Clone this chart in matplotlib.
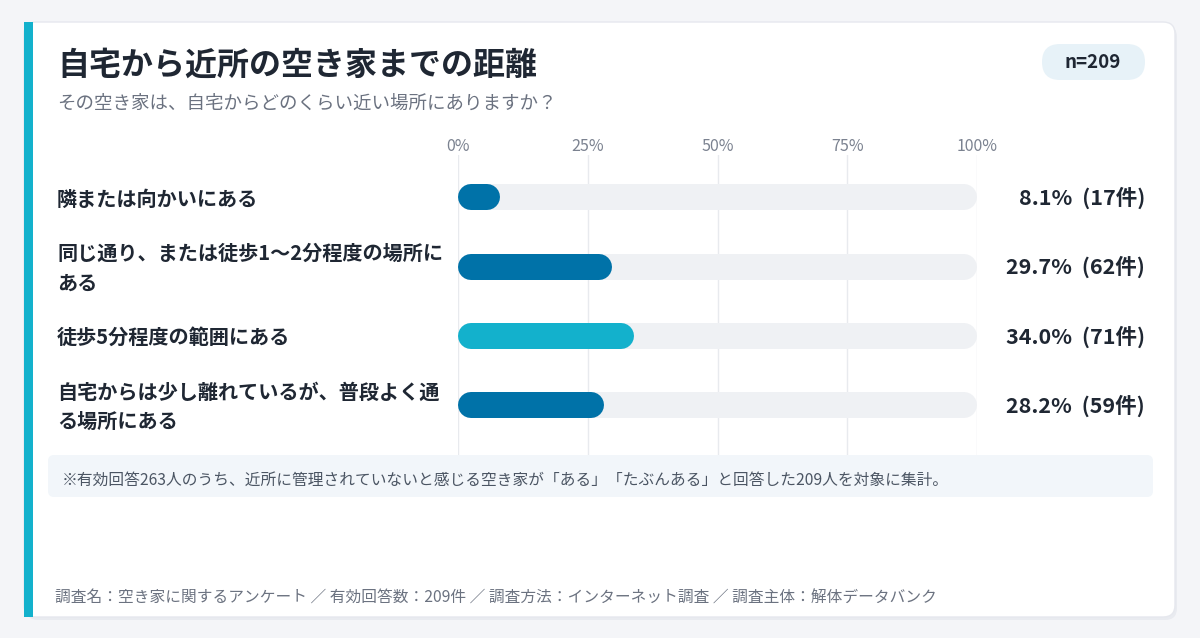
import numpy as np
import matplotlib.pyplot as plt
from matplotlib.patches import FancyBboxPatch, Rectangle

plt.rcParams['font.family'] = ['Noto Sans CJK JP', 'DejaVu Sans']

title = '自宅から近所の空き家までの距離'
subtitle = 'その空き家は、自宅からどのくらい近い場所にありますか？'
categories = ['隣または向かいにある',
              '同じ通り、または徒歩1〜2分程度の場所に\nある',
              '徒歩5分程度の範囲にある',
              '自宅からは少し離れているが、普段よく通\nる場所にある']
percents = [8.1, 29.7, 34.0, 28.2]
counts = [17, 62, 71, 59]
ticks = [0, 25, 50, 75, 100]
n_label = 'n=209'
note = '※有効回答263人のうち、近所に管理されていないと感じる空き家が「ある」「たぶんある」と回答した209人を対象に集計。'
footer = '調査名：空き家に関するアンケート ／ 有効回答数：209件 ／ 調査方法：インターネット調査 ／ 調査主体：解体データバンク'

W, H = 1200, 638
fig = plt.figure(figsize=(W / 100, H / 100), dpi=100)
fig.patch.set_facecolor('#f4f5f8')

# background axes in pixel units
bg = fig.add_axes([0, 0, 1, 1])
bg.set_xlim(0, W)
bg.set_ylim(H, 0)
bg.axis('off')

# card shadow + card
bg.add_patch(FancyBboxPatch((26, 25), 1151, 595, boxstyle='round,pad=0,rounding_size=12',
                            fc='#e9ebf0', ec='none', zorder=0))
bg.add_patch(FancyBboxPatch((24, 22), 1151, 595, boxstyle='round,pad=0,rounding_size=12',
                            fc='white', ec='#e6e8ee', lw=1, zorder=1))
bg.add_patch(Rectangle((24, 22), 9, 595, fc='#13b1cc', ec='none', zorder=2))

bg.text(57, 66, title, fontsize=23, fontweight='bold', color='#1f2733', va='center', zorder=3)
bg.text(57, 104, subtitle, fontsize=13.3, color='#6b7280', va='center', zorder=3)

# n pill
bg.add_patch(FancyBboxPatch((1042, 44), 103, 36, boxstyle='round,pad=0,rounding_size=18',
                            fc='#e7f2f8', ec='none', zorder=2))
bg.text(1093, 62, n_label, fontsize=13.5, fontweight='bold', color='#1f2733',
        ha='center', va='center', zorder=3)

# note box
bg.add_patch(FancyBboxPatch((48, 455), 1105, 42, boxstyle='round,pad=0,rounding_size=6',
                            fc='#f2f6fa', ec='none', zorder=2))
bg.text(62, 480, note, fontsize=11.3, color='#4b5563', va='center', zorder=3)

bg.text(55, 598, footer, fontsize=11.3, color='#6b7280', va='center', zorder=3)

# chart axes: x 458..977 px, y 155..455 px
ax = fig.add_axes([458 / W, 1 - 455 / H, (977 - 458) / W, 300 / H])
ax.set_facecolor('none')
ax.set_xlim(0, 100)
ax.set_ylim(3.72, -0.61)
for s in ax.spines.values():
    s.set_visible(False)
ax.set_yticks([])
ax.set_xticks(ticks)
ax.set_xticklabels([f'{t}%' for t in ticks], fontsize=11.5, color='#7b8290')
ax.xaxis.tick_top()
ax.tick_params(axis='x', length=0, pad=0)
for t in ticks:
    ax.axvline(t, color='#e8eaee', lw=1, zorder=0)

bar_px = 26
lw_pt = bar_px * 72 / 100
r = bar_px / 2 / 519 * 100
top = int(np.argmax(percents))
for i, (p, c) in enumerate(zip(percents, counts)):
    ax.plot([r, 100 - r], [i, i], lw=lw_pt, color='#eff1f4', solid_capstyle='round', zorder=1)
    col = '#13b1cc' if i == top else '#0072a8'
    ax.plot([r, p - r], [i, i], lw=lw_pt, color=col, solid_capstyle='round', zorder=2)
    yc = 197 + i * 69.3
    bg.text(1145, yc + 1, f'{p:.1f}%  ({c}件)', fontsize=15.5, fontweight='bold',
            color='#1f2733', ha='right', va='center', zorder=3)
    bg.text(57, yc + 2, categories[i], fontsize=14.5, fontweight='bold',
            color='#1f2733', va='center', linespacing=1.5, zorder=3)

fig.savefig('out.png', dpi=100, facecolor=fig.get_facecolor())
